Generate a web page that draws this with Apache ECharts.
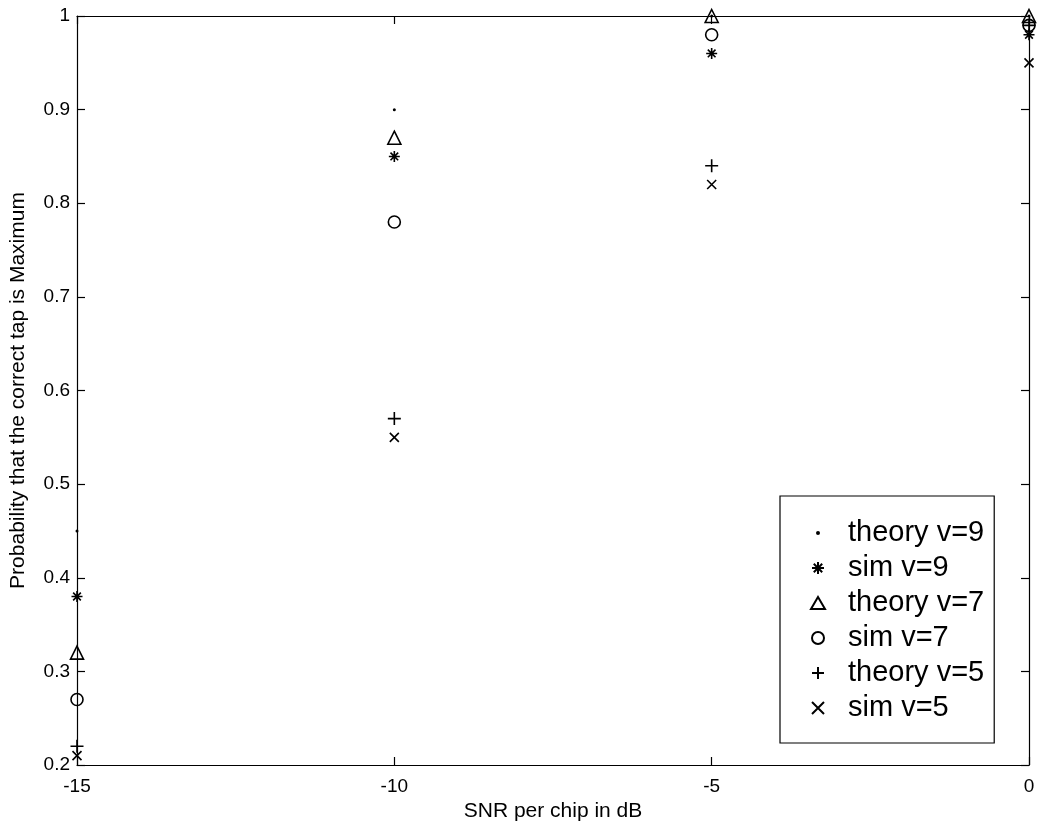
<!DOCTYPE html>
<html><head><meta charset="utf-8">
<script src="https://cdn.jsdelivr.net/npm/echarts@6/dist/echarts.min.js"></script>
<style>html,body{margin:0;padding:0;background:#fff}#c{width:1039px;height:830px}</style>
</head><body><div id="c"></div>
<script>
const snr = [-15, -10, -5, 0];
const theoryV9 = [0.45, 0.90, 1.00, 1.00];
const simV9 = [0.38, 0.85, 0.96, 0.98];
const theoryV7 = [0.32, 0.87, 1.00, 1.00];
const simV7 = [0.27, 0.78, 0.98, 0.99];
const theoryV5 = [0.22, 0.57, 0.84, 0.99];
const simV5 = [0.21, 0.55, 0.82, 0.95];
const names = ['theory v=9', 'sim v=9', 'theory v=7', 'sim v=7', 'theory v=5', 'sim v=5'];
const xTicks = [-15, -10, -5, 0];
const yTicks = [0.2, 0.3, 0.4, 0.5, 0.6, 0.7, 0.8, 0.9, 1];

const FONT = 'Liberation Sans, Arial, sans-serif';
const STAR = 'path://M5,0L5,10M0,5L10,5M1.5,1.5L8.5,8.5M8.5,1.5L1.5,8.5';
const PLUS = 'path://M5,0L5,10M0,5L10,5';
const CROSS = 'path://M0,0L10,10M10,0L0,10';
const DOT = 'circle';

const seriesDefs = [
  {name: names[0], data: theoryV9, symbol: DOT, size: 3, fill: '#000', bw: 0},
  {name: names[1], data: simV9, symbol: STAR, size: 11, fill: 'transparent', bw: 1.6},
  {name: names[2], data: theoryV7, symbol: 'triangle', size: 13, fill: 'transparent', bw: 1.6},
  {name: names[3], data: simV7, symbol: 'circle', size: 12, fill: 'transparent', bw: 1.6},
  {name: names[4], data: theoryV5, symbol: PLUS, size: 13, fill: 'transparent', bw: 1.6},
  {name: names[5], data: simV5, symbol: CROSS, size: 9, fill: 'transparent', bw: 1.6}
];

const axLine = {show: true, onZero: false, lineStyle: {color: '#000', width: 1.2}};
const tick = {show: true, inside: true, length: 8, lineStyle: {color: '#000', width: 1.2}};

const legendData = names.map((n, i) => i === 0
  ? {name: n, icon: 'circle', itemStyle: {color: '#000', borderColor: '#fff', borderWidth: 8}}
  : {name: n});

const chart = echarts.init(document.getElementById('c'), null, {renderer: 'canvas'});
chart.setOption({
  backgroundColor: '#fff',
  animation: false,
  grid: {left: 76, right: 10, top: 16, bottom: 65, containLabel: false},
  xAxis: [
    {type: 'value', min: xTicks[0], max: xTicks[xTicks.length-1], interval: 5, position: 'bottom',
     name: 'SNR per chip in dB', nameLocation: 'middle', nameGap: 34,
     nameTextStyle: {fontFamily: FONT, fontSize: 21, color: '#000'},
     axisLine: axLine, axisTick: tick, splitLine: {show: false},
     axisLabel: {fontFamily: FONT, fontSize: 19, color: '#000', margin: 12}},
    {type: 'value', min: xTicks[0], max: xTicks[xTicks.length-1], interval: 5, position: 'top',
     axisLine: axLine, axisTick: tick, splitLine: {show: false}, axisLabel: {show: false}}
  ],
  yAxis: [
    {type: 'value', min: 0.2, max: 1, interval: 0.1, position: 'left',
     name: 'Probability that the correct tap is Maximum', nameLocation: 'middle', nameGap: 48,
     nameTextStyle: {fontFamily: FONT, fontSize: 21, color: '#000'},
     axisLine: axLine, axisTick: tick, splitLine: {show: false},
     axisLabel: {fontFamily: FONT, fontSize: 19, color: '#000', margin: 7,
       formatter: v => String(Math.round(v * 10) / 10)}},
    {type: 'value', min: 0.2, max: 1, interval: 0.1, position: 'right',
     axisLine: axLine, axisTick: tick, splitLine: {show: false}, axisLabel: {show: false}}
  ],
  legend: {
    orient: 'vertical', left: 780, top: 496,
    data: legendData,
    itemWidth: 14, itemHeight: 12, itemGap: 5,
    padding: [22, 10, 20, 28],
    backgroundColor: '#fff', borderColor: '#000', borderWidth: 1.2,
    textStyle: {fontFamily: FONT, fontSize: 29, lineHeight: 30, color: '#000', padding: [0, 0, 0, 18]}
  },
  series: seriesDefs.map(s => ({
    name: s.name, type: 'scatter', symbol: s.symbol, symbolSize: s.size,
    data: snr.map((x, i) => [x, s.data[i]]),
    itemStyle: {color: s.fill, borderColor: '#000', borderWidth: s.bw, opacity: 1},
    emphasis: {disabled: true}
  }))
});
</script></body></html>
